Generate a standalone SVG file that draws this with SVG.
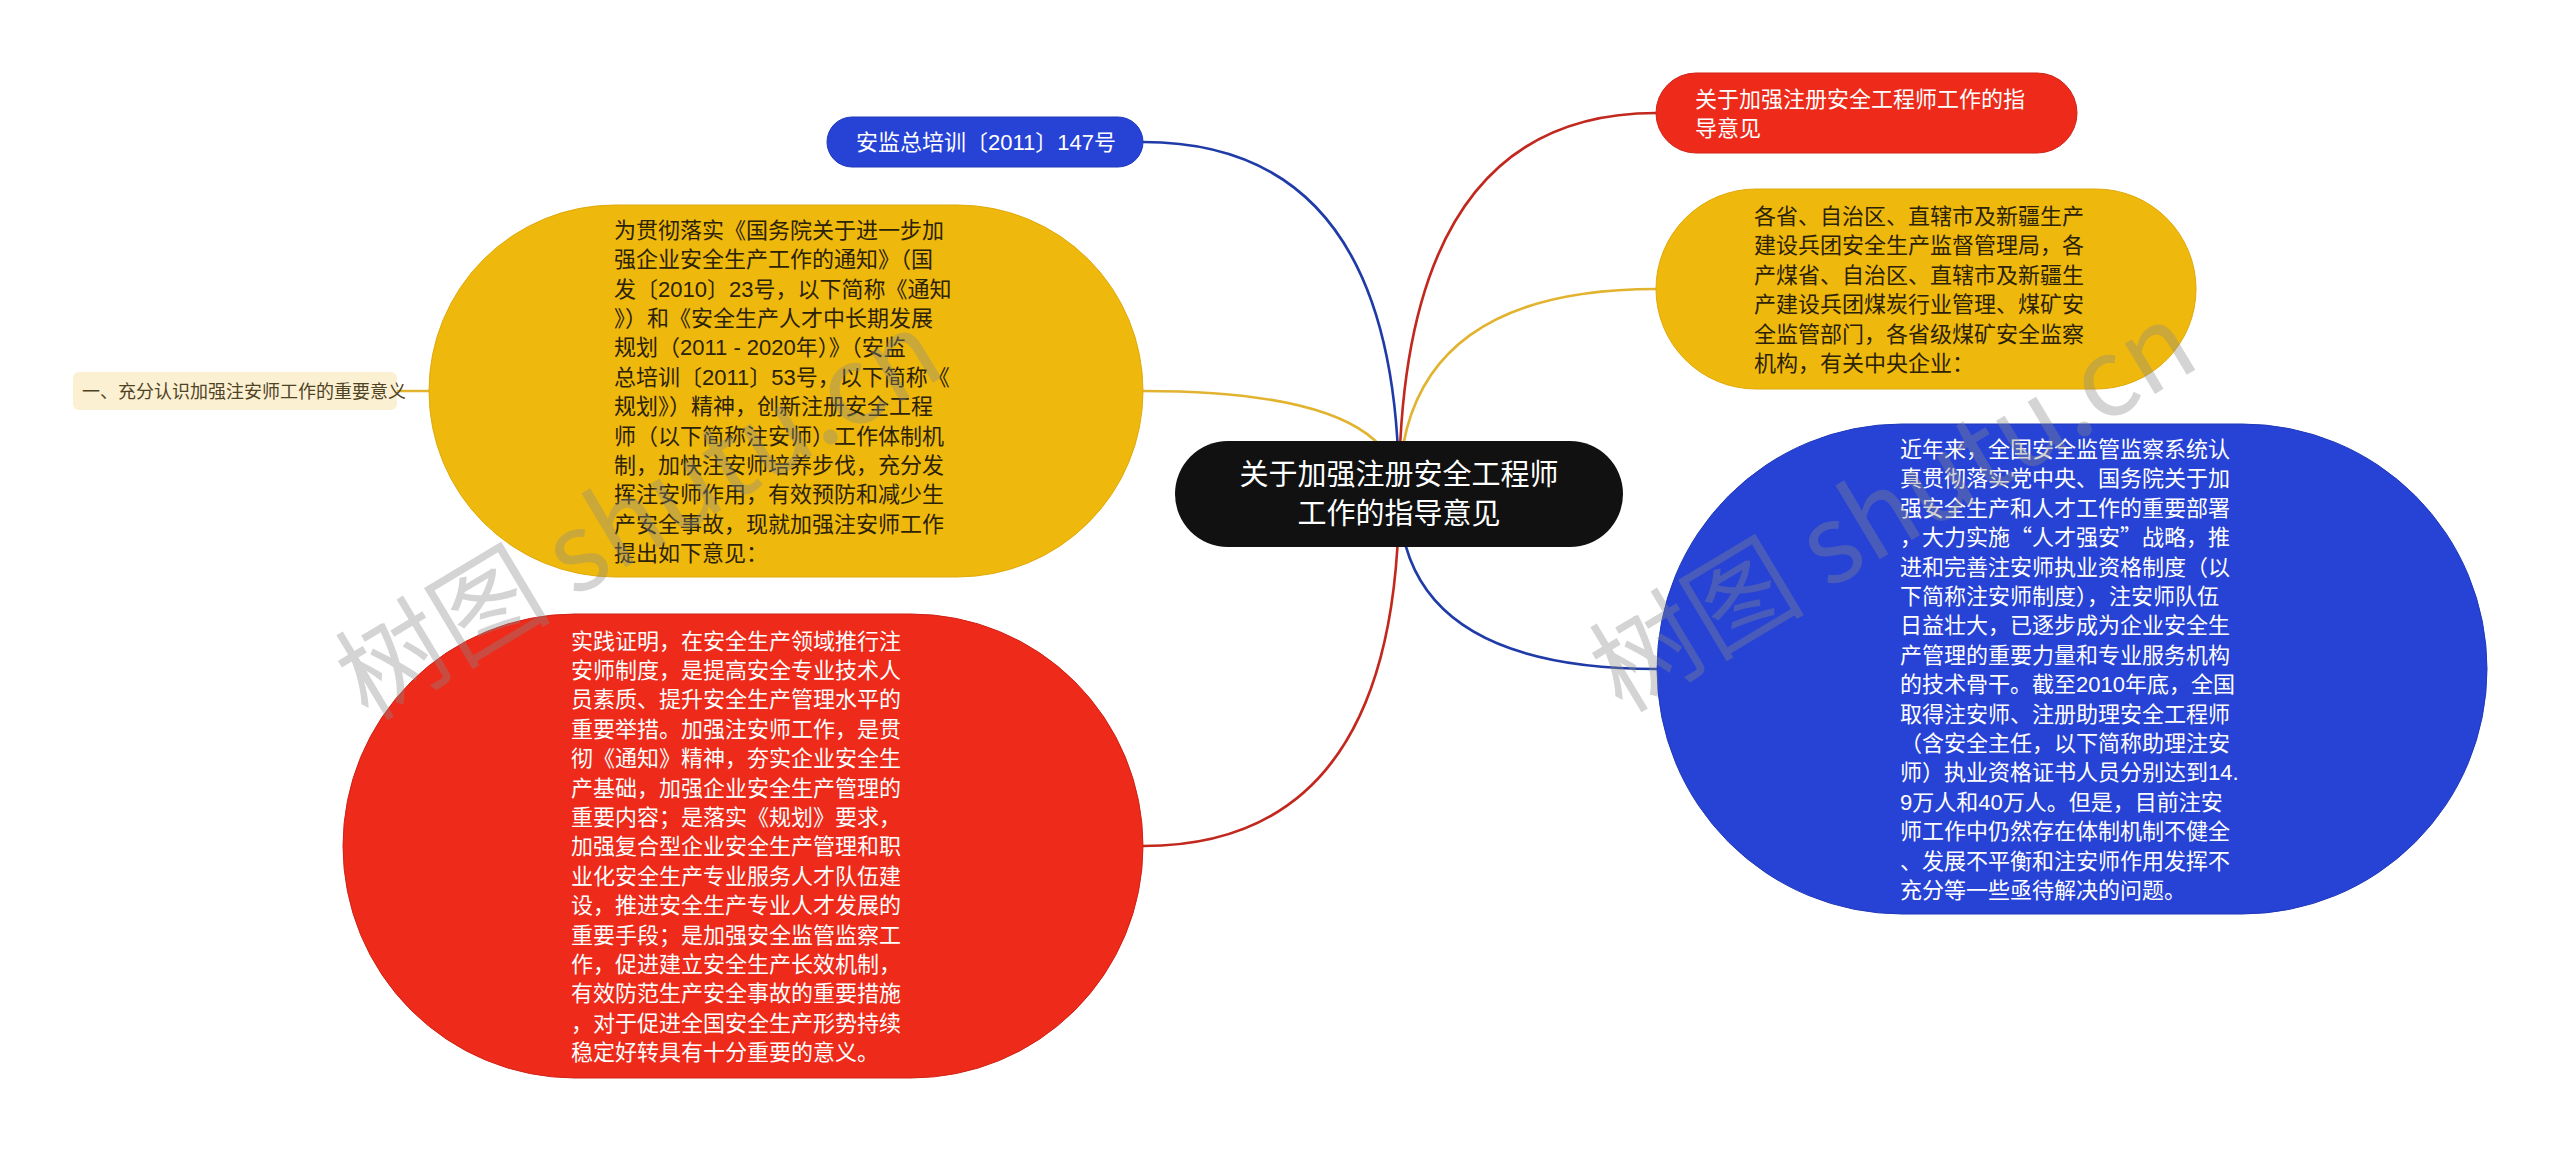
<svg xmlns="http://www.w3.org/2000/svg" width="2560" height="1149" viewBox="0 0 2560 1149">
<style>
.t{font-family:"Liberation Sans","Noto Sans CJK SC",sans-serif;font-size:22px}
.w{fill:#ffffff}
.d{fill:#2b2208}
.line{fill:none;stroke-width:2.6}
.wm{font-family:"Noto Sans CJK SC",sans-serif;font-size:108px;fill:#8a8a8a;opacity:0.36}
</style>
<rect width="2560" height="1149" fill="#ffffff"/>
<g id="connectors">
<path class="line" stroke="#1f3ba8" d="M1143 142 Q1399 142 1399 494"/>
<path class="line" stroke="#e2b32e" d="M1143 391 Q1399 391 1399 494"/>
<path class="line" stroke="#c2281d" d="M1143 846 Q1399 846 1399 494"/>
<path class="line" stroke="#c2281d" d="M1656 113 Q1399 113 1399 494"/>
<path class="line" stroke="#e2b32e" d="M1656 289 Q1399 289 1399 494"/>
<path class="line" stroke="#1f3ba8" d="M1657 669 Q1399 669 1399 494"/>
<path class="line" stroke="#e2b32e" d="M397 391 L460 391"/>
</g>
<g id="center">
<rect x="1175" y="441" width="448" height="106" rx="53" fill="#111111"/>
<text class="t w" style="font-size:29px" text-anchor="middle"><tspan x="1399" y="485">关于加强注册安全工程师</tspan><tspan x="1399" y="524">工作的指导意见</tspan></text>
</g>
<g id="node-blue-top">
<rect x="827" y="117" width="316" height="50" rx="25" fill="#2743d6" stroke="#2038b8" stroke-width="1"/>
<text class="t w" x="986" y="150" text-anchor="middle">安监总培训〔2011〕147号</text>
</g>
<g id="node-red-top">
<rect x="1656" y="73" width="421" height="80" rx="40" fill="#ee2a1a" stroke="#d02216" stroke-width="1"/>
<text class="t w"><tspan x="1695" y="107">关于加强注册安全工程师工作的指</tspan><tspan x="1695" y="136">导意见</tspan></text>
</g>
<g id="node-yellow-right">
<rect x="1656" y="189" width="540" height="200" rx="100" fill="#efb80c" stroke="#e0a90a" stroke-width="1"/>
<text class="t d">
<tspan x="1754" y="223.9">各省、自治区、直辖市及新疆生产</tspan>
<tspan x="1754" y="253.3">建设兵团安全生产监督管理局，各</tspan>
<tspan x="1754" y="282.7">产煤省、自治区、直辖市及新疆生</tspan>
<tspan x="1754" y="312.1">产建设兵团煤炭行业管理、煤矿安</tspan>
<tspan x="1754" y="341.5">全监管部门，各省级煤矿安全监察</tspan>
<tspan x="1754" y="370.9">机构，有关中央企业：</tspan>
</text>
</g>
<g id="node-blue-right">
<rect x="1657" y="424" width="830" height="490" rx="245" fill="#2743d6" stroke="#2038b8" stroke-width="1"/>
<text class="t w">
<tspan x="1900" y="456.9">近年来，全国安全监管监察系统认</tspan>
<tspan x="1900" y="486.3">真贯彻落实党中央、国务院关于加</tspan>
<tspan x="1900" y="515.7">强安全生产和人才工作的重要部署</tspan>
<tspan x="1900" y="545.1">，大力实施<tspan font-family="Noto Sans CJK SC">“</tspan>人才强安<tspan font-family="Noto Sans CJK SC">”</tspan>战略，推</tspan>
<tspan x="1900" y="574.5">进和完善注安师执业资格制度（以</tspan>
<tspan x="1900" y="603.9">下简称注安师制度），注安师队伍</tspan>
<tspan x="1900" y="633.3">日益壮大，已逐步成为企业安全生</tspan>
<tspan x="1900" y="662.7">产管理的重要力量和专业服务机构</tspan>
<tspan x="1900" y="692.1">的技术骨干。截至2010年底，全国</tspan>
<tspan x="1900" y="721.5">取得注安师、注册助理安全工程师</tspan>
<tspan x="1900" y="750.9">（含安全主任，以下简称助理注安</tspan>
<tspan x="1900" y="780.3">师）执业资格证书人员分别达到14.</tspan>
<tspan x="1900" y="809.7">9万人和40万人。但是，目前注安</tspan>
<tspan x="1900" y="839.1">师工作中仍然存在体制机制不健全</tspan>
<tspan x="1900" y="868.5">、发展不平衡和注安师作用发挥不</tspan>
<tspan x="1900" y="897.9">充分等一些亟待解决的问题。</tspan>
</text>
</g>
<g id="node-yellow-left">
<rect x="429" y="205" width="714" height="372" rx="186" fill="#efb80c" stroke="#e0a90a" stroke-width="1"/>
<text class="t d">
<tspan x="614" y="237.7">为贯彻落实《国务院关于进一步加</tspan>
<tspan x="614" y="267.1">强企业安全生产工作的通知》（国</tspan>
<tspan x="614" y="296.5">发〔2010〕23号，以下简称《通知</tspan>
<tspan x="614" y="325.9">》）和《安全生产人才中长期发展</tspan>
<tspan x="614" y="355.3">规划（2011 - 2020年）》（安监</tspan>
<tspan x="614" y="384.7">总培训〔2011〕53号，以下简称《</tspan>
<tspan x="614" y="414.1">规划》）精神，创新注册安全工程</tspan>
<tspan x="614" y="443.5">师（以下简称注安师）工作体制机</tspan>
<tspan x="614" y="472.9">制，加快注安师培养步伐，充分发</tspan>
<tspan x="614" y="502.3">挥注安师作用，有效预防和减少生</tspan>
<tspan x="614" y="531.7">产安全事故，现就加强注安师工作</tspan>
<tspan x="614" y="561.1">提出如下意见：</tspan>
</text>
</g>
<g id="node-label">
<rect x="73" y="372" width="324" height="38" rx="6" fill="#fcf0d2"/>
<text class="t" x="82" y="398" style="font-size:18px;fill:#4f4326">一、充分认识加强注安师工作的重要意义</text>
</g>
<g id="node-red-left">
<rect x="343" y="614" width="800" height="464" rx="232" fill="#ee2a1a" stroke="#d02216" stroke-width="1"/>
<text class="t w">
<tspan x="571" y="648.6">实践证明，在安全生产领域推行注</tspan>
<tspan x="571" y="678.0">安师制度，是提高安全专业技术人</tspan>
<tspan x="571" y="707.4">员素质、提升安全生产管理水平的</tspan>
<tspan x="571" y="736.8">重要举措。加强注安师工作，是贯</tspan>
<tspan x="571" y="766.2">彻《通知》精神，夯实企业安全生</tspan>
<tspan x="571" y="795.6">产基础，加强企业安全生产管理的</tspan>
<tspan x="571" y="825.0">重要内容；是落实《规划》要求，</tspan>
<tspan x="571" y="854.4">加强复合型企业安全生产管理和职</tspan>
<tspan x="571" y="883.8">业化安全生产专业服务人才队伍建</tspan>
<tspan x="571" y="913.2">设，推进安全生产专业人才发展的</tspan>
<tspan x="571" y="942.6">重要手段；是加强安全监管监察工</tspan>
<tspan x="571" y="972.0">作，促进建立安全生产长效机制，</tspan>
<tspan x="571" y="1001.4">有效防范生产安全事故的重要措施</tspan>
<tspan x="571" y="1030.8">，对于促进全国安全生产形势持续</tspan>
<tspan x="571" y="1060.2">稳定好转具有十分重要的意义。</tspan>
</text>
</g>
<g id="watermarks">
<text class="wm" transform="translate(368,722) rotate(-31)">树图 shutu.cn</text>
<text class="wm" transform="translate(1622,714) rotate(-31)">树图 shutu.cn</text>
</g>
</svg>
